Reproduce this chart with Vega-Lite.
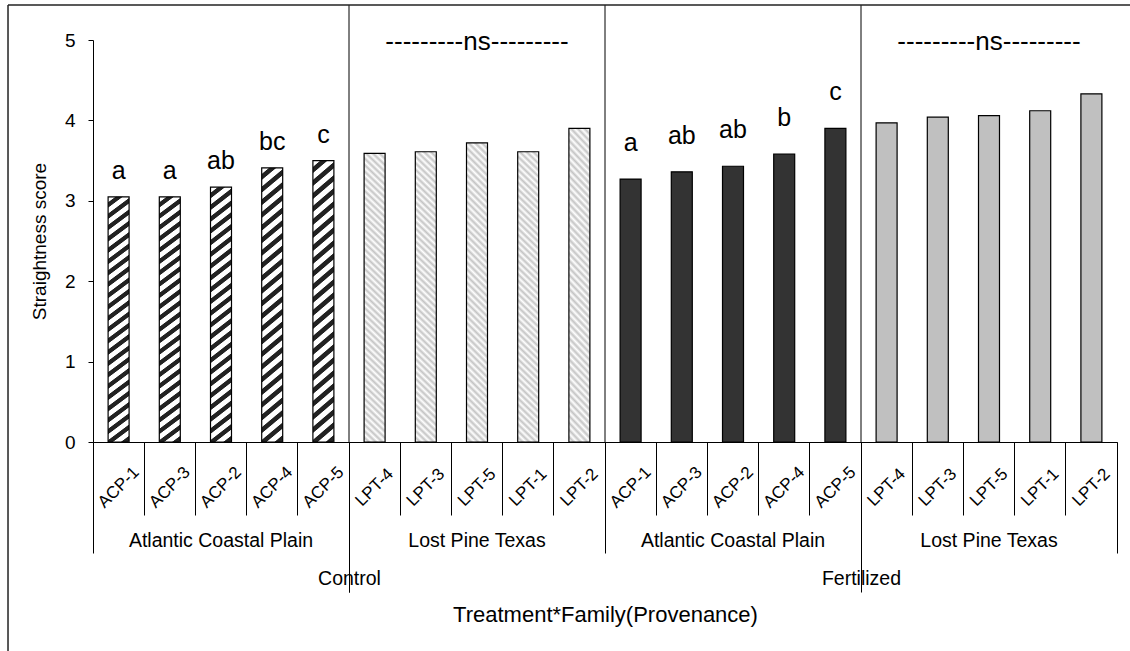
{
  "$schema": "https://vega.github.io/schema/vega-lite/v6.json",
  "width": 1024,
  "height": 402,
  "autosize": {"type": "none"},
  "padding": {"left": 93, "top": 40, "right": 13, "bottom": 209},
  "background": "#ffffff",
  "config": {
    "font": "Liberation Sans",
    "view": {"stroke": null},
    "axis": {"grid": false, "domainColor": "#000000", "tickColor": "#000000", "labelColor": "#000000", "titleColor": "#000000", "titleFontWeight": "normal", "labelFont": "Liberation Sans", "titleFont": "Liberation Sans", "labelLimit": 0},
    "text": {"color": "#000000", "font": "Liberation Sans"}
  },
  "resolve": {"scale": {"x": "independent"}, "axis": {"x": "independent"}},
  "layer": [
    {
      "data": {"values": [
        {"treatment": "Control", "provenance": "Atlantic Coastal Plain", "family": "ACP-1", "score": 3.05, "letter": "a"},
        {"treatment": "Control", "provenance": "Atlantic Coastal Plain", "family": "ACP-3", "score": 3.05, "letter": "a"},
        {"treatment": "Control", "provenance": "Atlantic Coastal Plain", "family": "ACP-2", "score": 3.17, "letter": "ab"},
        {"treatment": "Control", "provenance": "Atlantic Coastal Plain", "family": "ACP-4", "score": 3.41, "letter": "bc"},
        {"treatment": "Control", "provenance": "Atlantic Coastal Plain", "family": "ACP-5", "score": 3.50, "letter": "c"},
        {"treatment": "Control", "provenance": "Lost Pine Texas", "family": "LPT-4", "score": 3.59, "letter": ""},
        {"treatment": "Control", "provenance": "Lost Pine Texas", "family": "LPT-3", "score": 3.61, "letter": ""},
        {"treatment": "Control", "provenance": "Lost Pine Texas", "family": "LPT-5", "score": 3.72, "letter": ""},
        {"treatment": "Control", "provenance": "Lost Pine Texas", "family": "LPT-1", "score": 3.61, "letter": ""},
        {"treatment": "Control", "provenance": "Lost Pine Texas", "family": "LPT-2", "score": 3.90, "letter": ""},
        {"treatment": "Fertilized", "provenance": "Atlantic Coastal Plain", "family": "ACP-1", "score": 3.27, "letter": "a"},
        {"treatment": "Fertilized", "provenance": "Atlantic Coastal Plain", "family": "ACP-3", "score": 3.36, "letter": "ab"},
        {"treatment": "Fertilized", "provenance": "Atlantic Coastal Plain", "family": "ACP-2", "score": 3.43, "letter": "ab"},
        {"treatment": "Fertilized", "provenance": "Atlantic Coastal Plain", "family": "ACP-4", "score": 3.58, "letter": "b"},
        {"treatment": "Fertilized", "provenance": "Atlantic Coastal Plain", "family": "ACP-5", "score": 3.90, "letter": "c"},
        {"treatment": "Fertilized", "provenance": "Lost Pine Texas", "family": "LPT-4", "score": 3.97, "letter": ""},
        {"treatment": "Fertilized", "provenance": "Lost Pine Texas", "family": "LPT-3", "score": 4.04, "letter": ""},
        {"treatment": "Fertilized", "provenance": "Lost Pine Texas", "family": "LPT-5", "score": 4.06, "letter": ""},
        {"treatment": "Fertilized", "provenance": "Lost Pine Texas", "family": "LPT-1", "score": 4.12, "letter": ""},
        {"treatment": "Fertilized", "provenance": "Lost Pine Texas", "family": "LPT-2", "score": 4.33, "letter": ""}
      ]},
      "transform": [{"calculate": "datum.treatment + '|' + datum.family", "as": "key"}],
      "encoding": {
        "x": {"field": "key", "type": "nominal", "sort": null, "scale": {"paddingInner": 0, "paddingOuter": 0},
          "axis": {"orient": "bottom", "title": null, "labelExpr": "split(datum.value, '|')[1]", "labelAngle": -45, "labelAlign": "center", "labelBaseline": "middle", "labelFontSize": 17, "labelPadding": -28, "tickSize": 73, "bandPosition": 1, "tickExtra": true, "labelOverlap": false, "domain": true}},
        "y": {"field": "score", "type": "quantitative", "scale": {"domain": [0, 5], "nice": false},
          "axis": {"orient": "left", "values": [0, 1, 2, 3, 4, 5], "tickSize": 5, "labelFontSize": 19, "labelPadding": 13, "title": "Straightness score", "titleFontSize": 19, "titlePadding": 15}}
      },
      "layer": [
        {
          "transform": [{"filter": "datum.treatment == 'Control' && datum.provenance == 'Atlantic Coastal Plain'"}],
          "mark": {"type": "bar", "width": {"band": 0.41}, "stroke": "#000000", "strokeWidth": 1.2,
            "fill": {"gradient": "linear", "x1": 0, "y1": 0, "x2": 0.0735, "y2": 1.15, "stops": [
              {"offset": 0, "color": "#ffffff"}, {"offset": 0.018, "color": "#ffffff"}, {"offset": 0.021, "color": "#222222"}, {"offset": 0.037, "color": "#222222"},
              {"offset": 0.04, "color": "#ffffff"}, {"offset": 0.058, "color": "#ffffff"}, {"offset": 0.061, "color": "#222222"}, {"offset": 0.077, "color": "#222222"},
              {"offset": 0.08, "color": "#ffffff"}, {"offset": 0.098, "color": "#ffffff"}, {"offset": 0.101, "color": "#222222"}, {"offset": 0.117, "color": "#222222"},
              {"offset": 0.12, "color": "#ffffff"}, {"offset": 0.138, "color": "#ffffff"}, {"offset": 0.141, "color": "#222222"}, {"offset": 0.157, "color": "#222222"},
              {"offset": 0.16, "color": "#ffffff"}, {"offset": 0.178, "color": "#ffffff"}, {"offset": 0.181, "color": "#222222"}, {"offset": 0.197, "color": "#222222"},
              {"offset": 0.2, "color": "#ffffff"}, {"offset": 0.218, "color": "#ffffff"}, {"offset": 0.221, "color": "#222222"}, {"offset": 0.237, "color": "#222222"},
              {"offset": 0.24, "color": "#ffffff"}, {"offset": 0.258, "color": "#ffffff"}, {"offset": 0.261, "color": "#222222"}, {"offset": 0.277, "color": "#222222"},
              {"offset": 0.28, "color": "#ffffff"}, {"offset": 0.298, "color": "#ffffff"}, {"offset": 0.301, "color": "#222222"}, {"offset": 0.317, "color": "#222222"},
              {"offset": 0.32, "color": "#ffffff"}, {"offset": 0.338, "color": "#ffffff"}, {"offset": 0.341, "color": "#222222"}, {"offset": 0.357, "color": "#222222"},
              {"offset": 0.36, "color": "#ffffff"}, {"offset": 0.378, "color": "#ffffff"}, {"offset": 0.381, "color": "#222222"}, {"offset": 0.397, "color": "#222222"},
              {"offset": 0.4, "color": "#ffffff"}, {"offset": 0.418, "color": "#ffffff"}, {"offset": 0.421, "color": "#222222"}, {"offset": 0.437, "color": "#222222"},
              {"offset": 0.44, "color": "#ffffff"}, {"offset": 0.458, "color": "#ffffff"}, {"offset": 0.461, "color": "#222222"}, {"offset": 0.477, "color": "#222222"},
              {"offset": 0.48, "color": "#ffffff"}, {"offset": 0.498, "color": "#ffffff"}, {"offset": 0.501, "color": "#222222"}, {"offset": 0.517, "color": "#222222"},
              {"offset": 0.52, "color": "#ffffff"}, {"offset": 0.538, "color": "#ffffff"}, {"offset": 0.541, "color": "#222222"}, {"offset": 0.557, "color": "#222222"},
              {"offset": 0.56, "color": "#ffffff"}, {"offset": 0.578, "color": "#ffffff"}, {"offset": 0.581, "color": "#222222"}, {"offset": 0.597, "color": "#222222"},
              {"offset": 0.6, "color": "#ffffff"}, {"offset": 0.618, "color": "#ffffff"}, {"offset": 0.621, "color": "#222222"}, {"offset": 0.637, "color": "#222222"},
              {"offset": 0.64, "color": "#ffffff"}, {"offset": 0.658, "color": "#ffffff"}, {"offset": 0.661, "color": "#222222"}, {"offset": 0.677, "color": "#222222"},
              {"offset": 0.68, "color": "#ffffff"}, {"offset": 0.698, "color": "#ffffff"}, {"offset": 0.701, "color": "#222222"}, {"offset": 0.717, "color": "#222222"},
              {"offset": 0.72, "color": "#ffffff"}, {"offset": 0.738, "color": "#ffffff"}, {"offset": 0.741, "color": "#222222"}, {"offset": 0.757, "color": "#222222"},
              {"offset": 0.76, "color": "#ffffff"}, {"offset": 0.778, "color": "#ffffff"}, {"offset": 0.781, "color": "#222222"}, {"offset": 0.797, "color": "#222222"},
              {"offset": 0.8, "color": "#ffffff"}, {"offset": 0.818, "color": "#ffffff"}, {"offset": 0.821, "color": "#222222"}, {"offset": 0.837, "color": "#222222"},
              {"offset": 0.84, "color": "#ffffff"}, {"offset": 0.858, "color": "#ffffff"}, {"offset": 0.861, "color": "#222222"}, {"offset": 0.877, "color": "#222222"},
              {"offset": 0.88, "color": "#ffffff"}, {"offset": 0.898, "color": "#ffffff"}, {"offset": 0.901, "color": "#222222"}, {"offset": 0.917, "color": "#222222"},
              {"offset": 0.92, "color": "#ffffff"}, {"offset": 0.938, "color": "#ffffff"}, {"offset": 0.941, "color": "#222222"}, {"offset": 0.957, "color": "#222222"},
              {"offset": 0.96, "color": "#ffffff"}, {"offset": 0.978, "color": "#ffffff"}, {"offset": 0.981, "color": "#222222"}, {"offset": 0.997, "color": "#222222"},
              {"offset": 1, "color": "#ffffff"}
            ]}}
        },
        {
          "transform": [{"filter": "datum.treatment == 'Control' && datum.provenance == 'Lost Pine Texas'"}],
          "mark": {"type": "bar", "width": {"band": 0.41}, "stroke": "#000000", "strokeWidth": 1.2,
            "fill": {"gradient": "linear", "x1": 0, "y1": 1.04, "x2": 0.0784, "y2": -0.08, "stops": [
              {"offset": 0, "color": "#ffffff"}, {"offset": 0.01, "color": "#c4c4c4"}, {"offset": 0.02, "color": "#ffffff"}, {"offset": 0.03, "color": "#c4c4c4"},
              {"offset": 0.04, "color": "#ffffff"}, {"offset": 0.05, "color": "#c4c4c4"}, {"offset": 0.06, "color": "#ffffff"}, {"offset": 0.07, "color": "#c4c4c4"},
              {"offset": 0.08, "color": "#ffffff"}, {"offset": 0.09, "color": "#c4c4c4"}, {"offset": 0.1, "color": "#ffffff"}, {"offset": 0.11, "color": "#c4c4c4"},
              {"offset": 0.12, "color": "#ffffff"}, {"offset": 0.13, "color": "#c4c4c4"}, {"offset": 0.14, "color": "#ffffff"}, {"offset": 0.15, "color": "#c4c4c4"},
              {"offset": 0.16, "color": "#ffffff"}, {"offset": 0.17, "color": "#c4c4c4"}, {"offset": 0.18, "color": "#ffffff"}, {"offset": 0.19, "color": "#c4c4c4"},
              {"offset": 0.2, "color": "#ffffff"}, {"offset": 0.21, "color": "#c4c4c4"}, {"offset": 0.22, "color": "#ffffff"}, {"offset": 0.23, "color": "#c4c4c4"},
              {"offset": 0.24, "color": "#ffffff"}, {"offset": 0.25, "color": "#c4c4c4"}, {"offset": 0.26, "color": "#ffffff"}, {"offset": 0.27, "color": "#c4c4c4"},
              {"offset": 0.28, "color": "#ffffff"}, {"offset": 0.29, "color": "#c4c4c4"}, {"offset": 0.3, "color": "#ffffff"}, {"offset": 0.31, "color": "#c4c4c4"},
              {"offset": 0.32, "color": "#ffffff"}, {"offset": 0.33, "color": "#c4c4c4"}, {"offset": 0.34, "color": "#ffffff"}, {"offset": 0.35, "color": "#c4c4c4"},
              {"offset": 0.36, "color": "#ffffff"}, {"offset": 0.37, "color": "#c4c4c4"}, {"offset": 0.38, "color": "#ffffff"}, {"offset": 0.39, "color": "#c4c4c4"},
              {"offset": 0.4, "color": "#ffffff"}, {"offset": 0.41, "color": "#c4c4c4"}, {"offset": 0.42, "color": "#ffffff"}, {"offset": 0.43, "color": "#c4c4c4"},
              {"offset": 0.44, "color": "#ffffff"}, {"offset": 0.45, "color": "#c4c4c4"}, {"offset": 0.46, "color": "#ffffff"}, {"offset": 0.47, "color": "#c4c4c4"},
              {"offset": 0.48, "color": "#ffffff"}, {"offset": 0.49, "color": "#c4c4c4"}, {"offset": 0.5, "color": "#ffffff"}, {"offset": 0.51, "color": "#c4c4c4"},
              {"offset": 0.52, "color": "#ffffff"}, {"offset": 0.53, "color": "#c4c4c4"}, {"offset": 0.54, "color": "#ffffff"}, {"offset": 0.55, "color": "#c4c4c4"},
              {"offset": 0.56, "color": "#ffffff"}, {"offset": 0.57, "color": "#c4c4c4"}, {"offset": 0.58, "color": "#ffffff"}, {"offset": 0.59, "color": "#c4c4c4"},
              {"offset": 0.6, "color": "#ffffff"}, {"offset": 0.61, "color": "#c4c4c4"}, {"offset": 0.62, "color": "#ffffff"}, {"offset": 0.63, "color": "#c4c4c4"},
              {"offset": 0.64, "color": "#ffffff"}, {"offset": 0.65, "color": "#c4c4c4"}, {"offset": 0.66, "color": "#ffffff"}, {"offset": 0.67, "color": "#c4c4c4"},
              {"offset": 0.68, "color": "#ffffff"}, {"offset": 0.69, "color": "#c4c4c4"}, {"offset": 0.7, "color": "#ffffff"}, {"offset": 0.71, "color": "#c4c4c4"},
              {"offset": 0.72, "color": "#ffffff"}, {"offset": 0.73, "color": "#c4c4c4"}, {"offset": 0.74, "color": "#ffffff"}, {"offset": 0.75, "color": "#c4c4c4"},
              {"offset": 0.76, "color": "#ffffff"}, {"offset": 0.77, "color": "#c4c4c4"}, {"offset": 0.78, "color": "#ffffff"}, {"offset": 0.79, "color": "#c4c4c4"},
              {"offset": 0.8, "color": "#ffffff"}, {"offset": 0.81, "color": "#c4c4c4"}, {"offset": 0.82, "color": "#ffffff"}, {"offset": 0.83, "color": "#c4c4c4"},
              {"offset": 0.84, "color": "#ffffff"}, {"offset": 0.85, "color": "#c4c4c4"}, {"offset": 0.86, "color": "#ffffff"}, {"offset": 0.87, "color": "#c4c4c4"},
              {"offset": 0.88, "color": "#ffffff"}, {"offset": 0.89, "color": "#c4c4c4"}, {"offset": 0.9, "color": "#ffffff"}, {"offset": 0.91, "color": "#c4c4c4"},
              {"offset": 0.92, "color": "#ffffff"}, {"offset": 0.93, "color": "#c4c4c4"}, {"offset": 0.94, "color": "#ffffff"}, {"offset": 0.95, "color": "#c4c4c4"},
              {"offset": 0.96, "color": "#ffffff"}, {"offset": 0.97, "color": "#c4c4c4"}, {"offset": 0.98, "color": "#ffffff"}, {"offset": 0.99, "color": "#c4c4c4"},
              {"offset": 1, "color": "#ffffff"}
            ]}}
        },
        {
          "transform": [{"filter": "datum.treatment == 'Fertilized' && datum.provenance == 'Atlantic Coastal Plain'"}],
          "mark": {"type": "bar", "width": {"band": 0.41}, "stroke": "#000000", "strokeWidth": 1.2, "fill": "#333333"}
        },
        {
          "transform": [{"filter": "datum.treatment == 'Fertilized' && datum.provenance == 'Lost Pine Texas'"}],
          "mark": {"type": "bar", "width": {"band": 0.41}, "stroke": "#000000", "strokeWidth": 1.2, "fill": "#c0c0c0"}
        },
        {
          "transform": [{"filter": "datum.treatment == 'Control' && datum.letter != ''"}],
          "mark": {"type": "text", "fontSize": 25, "baseline": "alphabetic", "dy": -18},
          "encoding": {"text": {"field": "letter"}}
        },
        {
          "transform": [{"filter": "datum.treatment == 'Fertilized' && datum.letter != ''"}],
          "mark": {"type": "text", "fontSize": 25, "baseline": "alphabetic", "dy": -28},
          "encoding": {"text": {"field": "letter"}}
        }
      ]
    },
    {
      "data": {"values": [
        {"treatment": "Control", "provenance": "Atlantic Coastal Plain", "sig": ""},
        {"treatment": "Control", "provenance": "Lost Pine Texas", "sig": "---------ns---------"},
        {"treatment": "Fertilized", "provenance": "Atlantic Coastal Plain", "sig": ""},
        {"treatment": "Fertilized", "provenance": "Lost Pine Texas", "sig": "---------ns---------"}
      ]},
      "transform": [{"calculate": "datum.treatment + '|' + datum.provenance", "as": "pkey"}],
      "layer": [
        {
          "mark": {"type": "text", "fontSize": 26, "baseline": "alphabetic", "dy": 10},
          "encoding": {
            "x": {"field": "pkey", "type": "nominal", "sort": null, "scale": {"paddingInner": 0, "paddingOuter": 0},
              "axis": {"orient": "bottom", "title": null, "labelExpr": "split(datum.value, '|')[1]", "labelAngle": 0, "labelBaseline": "middle", "labelFontSize": 19.5, "labelPadding": -13, "tickSize": 111, "bandPosition": 1, "tickExtra": true, "domain": false, "labelOverlap": false}},
            "y": {"datum": 5, "type": "quantitative", "scale": {"domain": [0, 5], "nice": false},
              "axis": {"orient": "left", "values": [0, 1, 2, 3, 4, 5], "tickSize": 5, "labelFontSize": 19, "labelPadding": 13, "title": "Straightness score", "titleFontSize": 19, "titlePadding": 15}},
            "text": {"field": "sig"}
          }
        },
        {
          "transform": [{"filter": "datum.pkey != 'Control|Atlantic Coastal Plain'"}],
          "mark": {"type": "rule", "color": "#000000", "strokeWidth": 1},
          "encoding": {
            "x": {"field": "pkey", "type": "nominal", "sort": null, "bandPosition": 0, "scale": {"paddingInner": 0, "paddingOuter": 0},
              "axis": {"orient": "bottom", "title": null, "labelExpr": "split(datum.value, '|')[1]", "labelAngle": 0, "labelBaseline": "middle", "labelFontSize": 19.5, "labelPadding": -13, "tickSize": 111, "bandPosition": 1, "tickExtra": true, "domain": false, "labelOverlap": false}},
            "y": {"datum": 0, "type": "quantitative", "scale": {"domain": [0, 5], "nice": false},
              "axis": {"orient": "left", "values": [0, 1, 2, 3, 4, 5], "tickSize": 5, "labelFontSize": 19, "labelPadding": 13, "title": "Straightness score", "titleFontSize": 19, "titlePadding": 15}},
            "y2": {"datum": 5.435}
          }
        }
      ]
    },
    {
      "data": {"values": [{"treatment": "Control"}, {"treatment": "Fertilized"}]},
      "mark": {"type": "text"},
      "encoding": {
        "x": {"field": "treatment", "type": "nominal", "sort": null, "scale": {"paddingInner": 0, "paddingOuter": 0},
          "axis": {"orient": "bottom", "title": "Treatment*Family(Provenance)", "titleFontSize": 22, "titlePadding": 12, "labelAngle": 0, "labelBaseline": "middle", "labelFontSize": 19.5, "labelPadding": -14, "tickSize": 150, "bandPosition": 1, "tickExtra": true, "domain": false}},
        "text": {"value": ""}
      }
    },
    {
      "data": {"values": [{"edge": "top"}, {"edge": "left"}]},
      "layer": [
        {
          "transform": [{"filter": "datum.edge == 'top'"}],
          "mark": {"type": "rule", "color": "#222222", "strokeWidth": 1.5},
          "encoding": {
            "x": {"datum": -1.66, "type": "quantitative", "scale": {"domain": [0, 20], "nice": false, "zero": false}, "axis": null},
            "x2": {"datum": 20.3},
            "y": {"datum": 5.435, "type": "quantitative", "scale": {"domain": [0, 5], "nice": false},
              "axis": {"orient": "left", "values": [0, 1, 2, 3, 4, 5], "tickSize": 5, "labelFontSize": 19, "labelPadding": 13, "title": "Straightness score", "titleFontSize": 19, "titlePadding": 15}}
          }
        },
        {
          "transform": [{"filter": "datum.edge == 'left'"}],
          "mark": {"type": "rule", "color": "#222222", "strokeWidth": 1.5},
          "encoding": {
            "x": {"datum": -1.66, "type": "quantitative", "scale": {"domain": [0, 20], "nice": false, "zero": false}, "axis": null},
            "y": {"datum": 5.435, "type": "quantitative", "scale": {"domain": [0, 5], "nice": false},
              "axis": {"orient": "left", "values": [0, 1, 2, 3, 4, 5], "tickSize": 5, "labelFontSize": 19, "labelPadding": 13, "title": "Straightness score", "titleFontSize": 19, "titlePadding": 15}},
            "y2": {"datum": -2.6}
          }
        }
      ]
    }
  ]
}
